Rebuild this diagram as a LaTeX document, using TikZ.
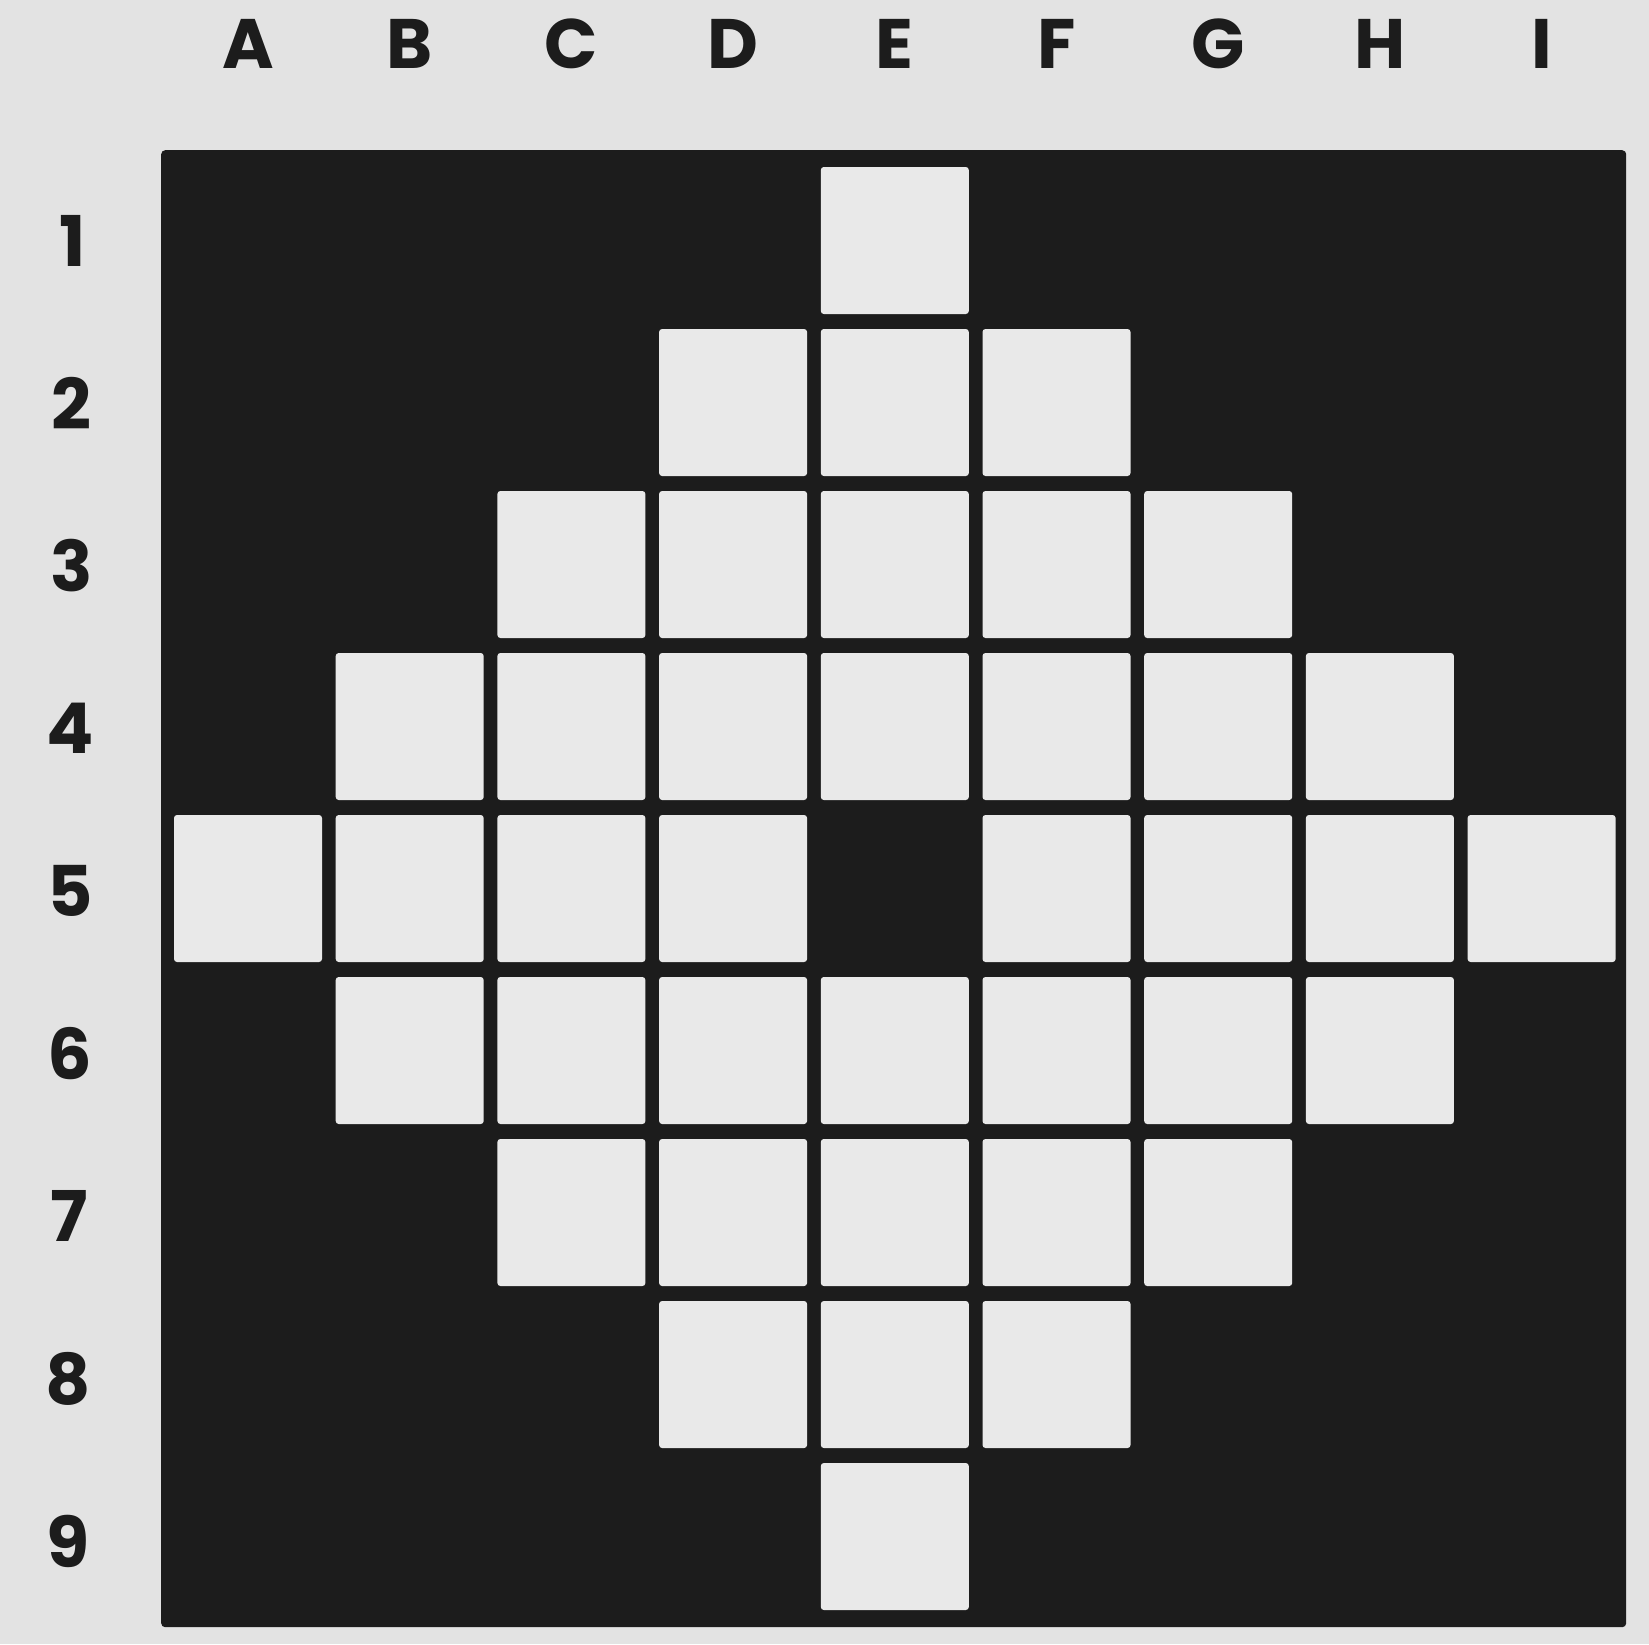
\documentclass[tikz,border=0pt]{standalone}
\usepackage{fontspec}
\setmainfont{Poppins}
\definecolor{paper}{gray}{0.89}
\definecolor{cellgray}{gray}{0.915}
\definecolor{boardblack}{gray}{0.11}
\begin{document}
\begin{tikzpicture}[x=1pt,y=-1pt,
  boardbox/.style={fill=boardblack, draw=none, rounded corners=4pt, inner sep=0pt, anchor=north west},
  cell/.style={fill=cellgray, draw=none, minimum width=148pt, minimum height=147pt, rounded corners=3pt, inner sep=0pt},
  lab/.style={font=\fontsize{70}{70}\selectfont\bfseries, text=boardblack, inner sep=0pt, anchor=center}]
\fill[paper] (0,0) rectangle (1649,1644);
\useasboundingbox (0,0) rectangle (1649,1644);
\node[boardbox, minimum width=1465pt, minimum height=1477pt] (board) at (161,150) {};
\foreach \r/\cols in {1/{5}, 2/{4,5,6}, 3/{3,4,5,6,7}, 4/{2,3,4,5,6,7,8}, 5/{1,2,3,4,6,7,8,9}, 6/{2,3,4,5,6,7,8}, 7/{3,4,5,6,7}, 8/{4,5,6}, 9/{5}}{
  \foreach \c in \cols {
    \node[cell] (cell-\c-\r) at ({248+161.7*(\c-1)}, {240.5+162*(\r-1)}) {};
  }
}
\foreach \l [count=\i] in {A,B,C,D,E,F,G,H,I}
  \node[lab] (col-\l) at ({248+161.7*(\i-1)}, 44) {\l};
\foreach \i in {1,...,9}
  \node[lab] (row-\i) at ({73-0.6*\i}, {241+162.5*(\i-1)}) {\i};
\end{tikzpicture}
\end{document}
